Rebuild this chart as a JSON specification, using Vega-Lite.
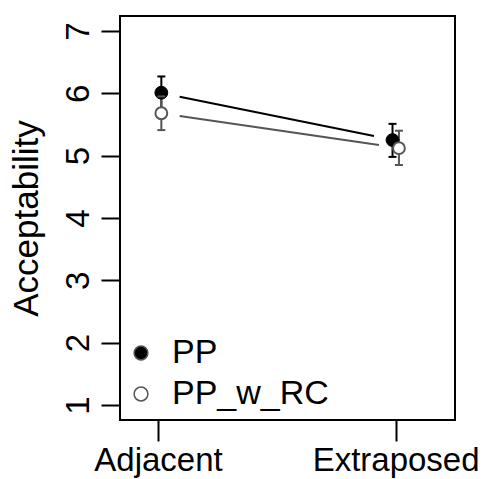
{
  "$schema": "https://vega.github.io/schema/vega-lite/v6.json",
  "width": 335,
  "height": 404,
  "autosize": {"type": "none"},
  "padding": {"left": 120, "top": 16, "right": 29, "bottom": 59},
  "background": "white",
  "config": {
    "font": "Liberation Sans",
    "view": {"stroke": "black", "strokeWidth": 2},
    "axis": {"grid": false, "domain": false, "tickColor": "black", "tickWidth": 2, "labelColor": "black", "titleColor": "black", "labelFont": "Liberation Sans", "titleFont": "Liberation Sans", "labelFontSize": 33, "titleFontSize": 35, "titleFontWeight": "normal"},
    "legend": {"labelFont": "Liberation Sans", "labelFontSize": 34, "labelColor": "black"}
  },
  "datasets": {
    "points": [
      {"series": "PP", "cond": "Adjacent", "pos": 1.014, "mean": 6.01, "lower": 5.75, "upper": 6.27},
      {"series": "PP", "cond": "Extraposed", "pos": 1.987, "mean": 5.25, "lower": 4.98, "upper": 5.51},
      {"series": "PP_w_RC", "cond": "Adjacent", "pos": 1.014, "mean": 5.68, "lower": 5.41, "upper": 5.95},
      {"series": "PP_w_RC", "cond": "Extraposed", "pos": 2.014, "mean": 5.12, "lower": 4.85, "upper": 5.40}
    ],
    "lines": [
      {"series": "PP", "x1": 1.091, "y1": 5.946, "x2": 1.909, "y2": 5.316},
      {"series": "PP_w_RC", "x1": 1.091, "y1": 5.637, "x2": 1.930, "y2": 5.171}
    ]
  },
  "layer": [
    {
      "data": {"name": "lines"},
      "mark": {"type": "rule", "strokeWidth": 2},
      "encoding": {
        "x": {"field": "x1", "type": "quantitative", "scale": {"domain": [0.84, 2.25], "nice": false, "zero": false},
          "axis": {"values": [1, 2], "labelExpr": "datum.value == 1 ? 'Adjacent' : 'Extraposed'", "tickSize": 21, "labelPadding": 29, "labelBaseline": "alphabetic", "labelAlign": "center", "title": null, "labelFlush": false, "labelOverlap": false}},
        "x2": {"field": "x2"},
        "y": {"field": "y1", "type": "quantitative", "scale": {"domain": [0.76, 7.24], "nice": false, "zero": false},
          "axis": {"values": [1, 2, 3, 4, 5, 6, 7], "format": "d", "tickSize": 19, "labelAngle": -90, "labelAlign": "center", "labelBaseline": "alphabetic", "labelPadding": 13, "title": "Acceptability", "titleAngle": -90, "titleX": -83, "titleY": 202, "titleAlign": "center", "titleBaseline": "alphabetic", "labelFlush": false, "labelOverlap": false}},
        "y2": {"field": "y2"},
        "stroke": {"condition": {"test": "datum.series == 'PP'", "value": "black"}, "value": "#555555"}
      }
    },
    {
      "data": {"name": "points"},
      "transform": [{"filter": "datum.series == 'PP'"}],
      "layer": [
        {"mark": {"type": "rule", "strokeWidth": 2, "color": "black"},
         "encoding": {"x": {"field": "pos", "type": "quantitative"}, "y": {"field": "lower", "type": "quantitative"}, "y2": {"field": "upper"}}},
        {"mark": {"type": "tick", "orient": "horizontal", "size": 8, "thickness": 2, "opacity": 1, "color": "black"},
         "encoding": {"x": {"field": "pos", "type": "quantitative"}, "y": {"field": "upper", "type": "quantitative"}}},
        {"mark": {"type": "tick", "orient": "horizontal", "size": 8, "thickness": 2, "opacity": 1, "color": "black"},
         "encoding": {"x": {"field": "pos", "type": "quantitative"}, "y": {"field": "lower", "type": "quantitative"}}}
      ]
    },
    {
      "data": {"name": "points"},
      "transform": [{"filter": "datum.series == 'PP_w_RC'"}],
      "layer": [
        {"mark": {"type": "rule", "strokeWidth": 2, "color": "#555555"},
         "encoding": {"x": {"field": "pos", "type": "quantitative"}, "y": {"field": "lower", "type": "quantitative"}, "y2": {"field": "upper"}}},
        {"mark": {"type": "tick", "orient": "horizontal", "size": 8, "thickness": 2, "opacity": 1, "color": "#555555"},
         "encoding": {"x": {"field": "pos", "type": "quantitative"}, "y": {"field": "lower", "type": "quantitative"}}}
      ]
    },
    {
      "data": {"name": "points"},
      "mark": {"type": "point", "shape": "circle", "filled": true, "opacity": 1},
      "encoding": {
        "x": {"field": "pos", "type": "quantitative"},
        "y": {"field": "mean", "type": "quantitative"},
        "fill": {"field": "series", "type": "nominal", "scale": {"domain": ["PP", "PP_w_RC"], "range": ["black", "white"]},
          "legend": {"orient": "none", "legendX": 4, "legendY": 320, "title": null, "symbolSize": 190, "symbolType": "circle", "labelOffset": 14, "rowPadding": 7, "padding": 0}},
        "stroke": {"condition": {"test": "datum.series == 'PP'", "value": "black"}, "value": "#555555"},
        "strokeWidth": {"condition": {"test": "datum.series == 'PP'", "value": 1}, "value": 2},
        "size": {"condition": {"test": "datum.series == 'PP'", "value": 165}, "value": 140}
      }
    },
    {
      "data": {"name": "points"},
      "transform": [{"filter": "datum.series == 'PP_w_RC'"}],
      "mark": {"type": "tick", "orient": "horizontal", "size": 8, "thickness": 2, "opacity": 1, "color": "#555555"},
      "encoding": {"x": {"field": "pos", "type": "quantitative"}, "y": {"field": "upper", "type": "quantitative"}}
    }
  ]
}
